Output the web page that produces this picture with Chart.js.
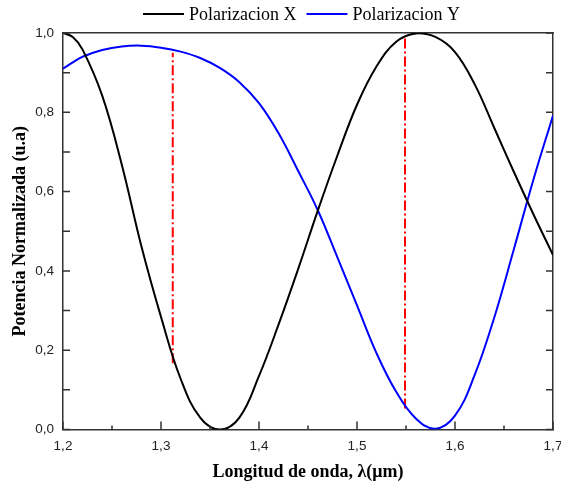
<!DOCTYPE html>
<html>
<head>
<meta charset="utf-8">
<script src="https://cdn.jsdelivr.net/npm/chart.js@4/dist/chart.umd.min.js"></script>
<style>
  html, body { margin: 0; padding: 0; background: #fff; }
  #wrap { width: 561px; height: 489px; }
</style>
</head>
<body>
<div id="wrap"><canvas id="grafico"></canvas></div>
<script>
// longitud de onda (um) y potencias
const lambda = [1.20, 1.21, 1.22, 1.24, 1.26, 1.28, 1.30, 1.32, 1.34, 1.36, 1.38, 1.40, 1.42, 1.44,
                1.46, 1.48, 1.50, 1.52, 1.54, 1.56, 1.58, 1.60, 1.62, 1.64, 1.66, 1.68, 1.70];
const polX = [1.000, 0.990, 0.958, 0.842, 0.668, 0.462, 0.284, 0.128, 0.030, 0.000, 0.030, 0.135, 0.265, 0.405,
              0.552, 0.691, 0.819, 0.916, 0.978, 0.999, 0.990, 0.952, 0.871, 0.761, 0.650, 0.543, 0.440];
const polY = [0.910, 0.926, 0.940, 0.957, 0.966, 0.968, 0.963, 0.953, 0.937, 0.912, 0.876, 0.823, 0.747, 0.652,
              0.553, 0.434, 0.313, 0.192, 0.095, 0.028, 0.002, 0.035, 0.137, 0.282, 0.454, 0.630, 0.792];
const seriesNames = ['Polarizacion X', 'Polarizacion Y'];

// lineas verticales rojas (posicion, desde, hasta)
const markerX = [1.312, 1.549];
const markerFrom = [0.167, 0.053];
const markerTo = [0.950, 0.994];

// ticks
const xTicks = [1.2, 1.3, 1.4, 1.5, 1.6, 1.7];
const xMinorTicks = [1.25, 1.35, 1.45, 1.55, 1.65];
const yTicks = [0, 0.2, 0.4, 0.6, 0.8, 1.0];
const yMinorTicks = [0.1, 0.3, 0.5, 0.7, 0.9];

const fmt = v => v.toFixed(1).replace('.', ',');

/* Leyenda dibujada arriba: linea corta + nombre de la serie */
const leyendaArriba = {
  id: 'leyendaArriba',
  afterDraw(chart) {
    const ctx = chart.ctx;
    let x = 143;
    const y = 14;
    ctx.save();
    ctx.font = '18px "Liberation Serif", serif';
    ctx.textBaseline = 'middle';
    ctx.textAlign = 'left';
    chart.data.datasets.slice(0, 2).forEach(ds => {
      ctx.strokeStyle = ds.borderColor;
      ctx.lineWidth = 2;
      ctx.beginPath();
      ctx.moveTo(x, y);
      ctx.lineTo(x + 41, y);
      ctx.stroke();
      x += 46;
      ctx.fillStyle = '#000';
      ctx.fillText(ds.label, x, y + 1);
      x += ctx.measureText(ds.label).width + 10;
    });
    ctx.restore();
  }
};

/* Marcas de los ejes hacia adentro */
const ticksAdentro = {
  id: 'ticksAdentro',
  afterDraw(chart) {
    const ctx = chart.ctx;
    const a = chart.chartArea;
    const sx = chart.scales.x, sy = chart.scales.y;
    ctx.save();
    ctx.strokeStyle = '#333';
    ctx.lineWidth = 1.5;
    ctx.beginPath();
    xTicks.concat(xMinorTicks).forEach(v => {
      const px = sx.getPixelForValue(v);
      const len = xTicks.includes(v) ? 8 : 4;
      ctx.moveTo(px, a.bottom);
      ctx.lineTo(px, a.bottom - len);
    });
    yTicks.concat(yMinorTicks).forEach(v => {
      const py = sy.getPixelForValue(v);
      ctx.moveTo(a.left, py);
      ctx.lineTo(a.left + 7, py);
      ctx.moveTo(a.right, py);
      ctx.lineTo(a.right - 7, py);
    });
    ctx.stroke();
    ctx.restore();
  }
};

const serie = (vals) => lambda.map((l, i) => ({ x: l, y: vals[i] }));
const marcadores = markerX.map((m, i) => ({
  label: 'marca' + i,
  data: [{ x: m, y: markerFrom[i] }, { x: m, y: markerTo[i] }],
  borderColor: '#ff0000',
  borderWidth: 2,
  borderDash: [10, 3, 2, 3],
  pointRadius: 0,
  tension: 0
}));

const ejeBorde = { display: true, color: '#333', width: 1.5 };
const sinPadding = s => { s.paddingLeft = 0; s.paddingRight = 0; s.paddingTop = 0; s.paddingBottom = 0; };

new Chart(document.getElementById('grafico'), {
  type: 'line',
  data: {
    datasets: [
      {
        label: seriesNames[0],
        data: serie(polX),
        borderColor: '#000000',
        borderWidth: 2,
        pointRadius: 0,
        tension: 0.4
      },
      {
        label: seriesNames[1],
        data: serie(polY),
        borderColor: '#0000ff',
        borderWidth: 2,
        pointRadius: 0,
        tension: 0.4
      },
      ...marcadores
    ]
  },
  options: {
    responsive: true,
    maintainAspectRatio: false,
    animation: false,
    layout: { padding: { top: 33, right: 8, left: 0, bottom: 0 } },
    plugins: {
      legend: { display: false },
      tooltip: { enabled: false }
    },
    scales: {
      x: {
        type: 'linear',
        min: 1.2,
        max: 1.7,
        afterBuildTicks: s => { s.ticks = xTicks.map(v => ({ value: v })); },
        afterFit: s => { s.height = 59.5; sinPadding(s); },
        ticks: {
          callback: v => fmt(v),
          color: '#222',
          padding: 9,
          maxRotation: 0,
          font: { family: '"Liberation Sans", Arial, sans-serif', size: 13.5 }
        },
        grid: { drawOnChartArea: false, drawTicks: false },
        border: ejeBorde,
        title: {
          display: true,
          text: 'Longitud de onda, λ(μm)',
          color: '#000',
          padding: { top: 0, bottom: 6 },
          font: { family: '"Liberation Serif", serif', size: 18, weight: 'bold' }
        }
      },
      y: {
        min: 0,
        max: 1,
        afterBuildTicks: s => { s.ticks = yTicks.map(v => ({ value: v })); },
        afterFit: s => { s.width = 63; sinPadding(s); },
        ticks: {
          callback: v => fmt(v),
          color: '#222',
          padding: 9,
          font: { family: '"Liberation Sans", Arial, sans-serif', size: 13.5 }
        },
        grid: { drawOnChartArea: false, drawTicks: false },
        border: ejeBorde,
        title: {
          display: true,
          text: 'Potencia Normalizada (u.a)',
          color: '#000',
          padding: { top: 10, bottom: 0 },
          font: { family: '"Liberation Serif", serif', size: 18, weight: 'bold' }
        }
      },
      x2: {
        type: 'linear',
        position: 'top',
        min: 1.2,
        max: 1.7,
        ticks: { display: false },
        grid: { drawOnChartArea: false, drawTicks: false },
        border: ejeBorde,
        afterFit: s => { s.height = 0; sinPadding(s); }
      },
      y2: {
        position: 'right',
        min: 0,
        max: 1,
        ticks: { display: false },
        grid: { drawOnChartArea: false, drawTicks: false },
        border: ejeBorde,
        afterFit: s => { s.width = 0; sinPadding(s); }
      }
    }
  },
  plugins: [leyendaArriba, ticksAdentro]
});
</script>
</body>
</html>
